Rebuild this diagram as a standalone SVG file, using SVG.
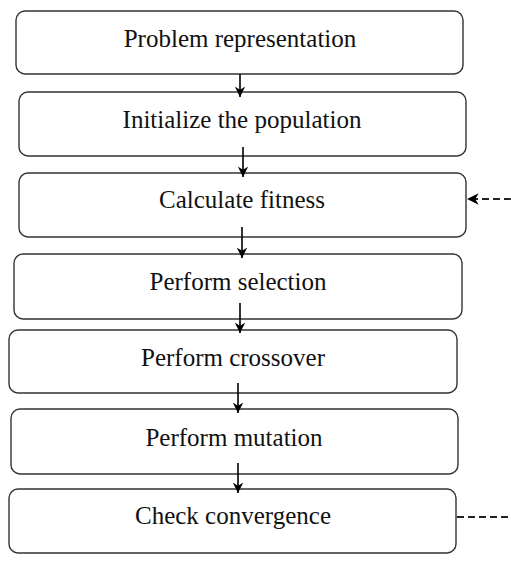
<svg xmlns="http://www.w3.org/2000/svg" width="511" height="581" viewBox="0 0 511 581">
<defs>
<marker id="ah" viewBox="0 0 10 10" refX="10" refY="5" markerWidth="6.5" markerHeight="6.5" markerUnits="strokeWidth" orient="auto">
<path d="M0,0 L10,5 L0,10 L3,5 z" fill="#000"/>
</marker>
<style>
.box{fill:#fff;stroke:#333;stroke-width:1.4}
.lbl{font-family:"Liberation Serif","Times New Roman",serif;font-size:25px;fill:#111;text-anchor:middle}
.c{stroke:#000;stroke-width:1.6;fill:none}
.d{stroke:#222;stroke-width:1.8;fill:none;stroke-dasharray:7,4}
</style>
</defs>
<rect width="511" height="581" fill="#fff"/>
<g id="n1"><rect class="box" x="16" y="11" width="447" height="63" rx="9"/><text class="lbl" x="240" y="47">Problem representation</text></g>
<g id="n2"><rect class="box" x="19" y="92" width="447" height="64" rx="9"/><text class="lbl" x="242" y="128">Initialize the population</text></g>
<g id="n3"><rect class="box" x="19" y="173" width="447" height="64" rx="9"/><text class="lbl" x="242" y="208">Calculate fitness</text></g>
<g id="n4"><rect class="box" x="14" y="254" width="448" height="65" rx="9"/><text class="lbl" x="238" y="290">Perform selection</text></g>
<g id="n5"><rect class="box" x="9" y="330" width="448" height="63" rx="9"/><text class="lbl" x="233" y="366">Perform crossover</text></g>
<g id="n6"><rect class="box" x="11" y="409" width="447" height="65" rx="9"/><text class="lbl" x="234" y="446">Perform mutation</text></g>
<g id="n7"><rect class="box" x="9" y="489" width="447" height="64" rx="9"/><text class="lbl" x="233" y="524">Check convergence</text></g>
<g id="connectors">
<line class="c" x1="240" y1="74" x2="240" y2="97" marker-end="url(#ah)"/>
<line class="c" x1="243" y1="147" x2="243" y2="177" marker-end="url(#ah)"/>
<line class="c" x1="242" y1="227" x2="242" y2="258" marker-end="url(#ah)"/>
<line class="c" x1="240" y1="303" x2="240" y2="333" marker-end="url(#ah)"/>
<line class="c" x1="238" y1="383" x2="238" y2="413" marker-end="url(#ah)"/>
<line class="c" x1="238" y1="463" x2="238" y2="493" marker-end="url(#ah)"/>
<line class="d" x1="511" y1="199" x2="467" y2="199" marker-end="url(#ah)"/>
<line class="d" x1="457" y1="517" x2="511" y2="517"/>
</g>
</svg>
